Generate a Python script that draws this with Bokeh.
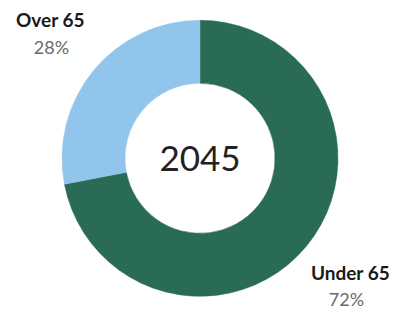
import math
from bokeh.plotting import figure
from bokeh.models import Range1d, ColumnDataSource
from bokeh.core.properties import value
from bokeh.embed import file_html
from bokeh.resources import INLINE

# Data
labels = ["Under 65", "Over 65"]
shares = [72, 28]
pct_labels = ["72%", "28%"]
colors = ["#2a6b55", "#92c5ec"]
center_label = "2045"

W, H = 401, 312
p = figure(width=W, height=H, output_backend="svg", toolbar_location=None,
           x_range=Range1d(0, W), y_range=Range1d(0, H), min_border=0)
p.axis.visible = False
p.grid.visible = False
p.outline_line_color = None
p.background_fill_color = "white"
p.border_fill_color = "white"

cx, cy = 199.5, 154.2
total = sum(shares)
starts, ends = [], []
acc = 0.0
for s in shares:
    a0 = math.pi / 2 - 2 * math.pi * acc / total
    acc += s
    a1 = math.pi / 2 - 2 * math.pi * acc / total
    starts.append(a0)
    ends.append(a1)

src = ColumnDataSource(dict(x=[cx] * len(shares), y=[cy] * len(shares),
                            start=starts, end=ends, color=colors))
p.annular_wedge(x="x", y="y", inner_radius=75, outer_radius=138,
                start_angle="start", end_angle="end", direction="clock",
                fill_color="color", line_color="color", line_width=0.5, source=src)

p.text(x=[cx], y=[cy], text=[center_label], text_align="center", text_baseline="middle",
       text_font=value("Lato"), text_font_size="35px", text_color="#222222")

# Labels: Under 65 bottom-right, Over 65 top-left
name_pos = {"Under 65": (350, 40), "Over 65": (50, 293)}
pct_pos = {"Under 65": (346, 14), "Over 65": (51, 266)}
for lab, pct in zip(labels, pct_labels):
    nx, ny = name_pos[lab]
    px, py = pct_pos[lab]
    p.text(x=[nx], y=[ny], text=[lab], text_align="center", text_baseline="middle",
           text_font=value("Lato"), text_font_style="bold", text_font_size="19px",
           text_color="#1a1a1a")
    p.text(x=[px], y=[py], text=[pct], text_align="center", text_baseline="middle",
           text_font=value("Lato"), text_font_size="18px", text_color="#6a6a6a")

open("out.html", "w").write(file_html(p, INLINE))
